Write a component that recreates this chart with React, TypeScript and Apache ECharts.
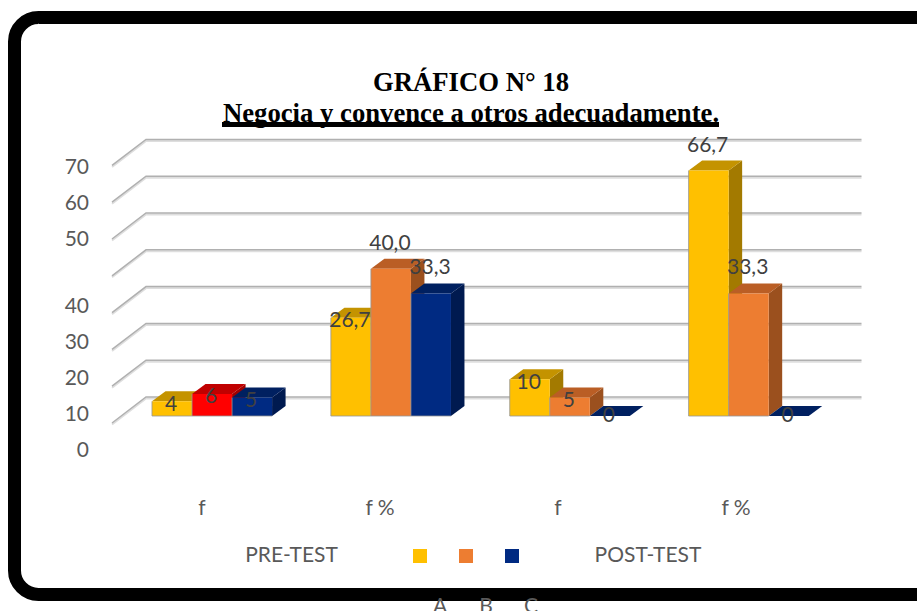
import React, { useEffect, useRef } from "react";
import * as echarts from "echarts";

const categories = ["f", "f %", "f", "f %"];
const seriesNames = ["A", "B", "C"];
const valuesA = [4, 26.7, 10, 66.7];
const valuesB = [6, 40.0, 5, 33.3];
const valuesC = [5, 33.3, 0, 0];
const gridValues = [0, 10, 20, 30, 40, 50, 60, 70];
const titleLine1 = "GRÁFICO N° 18";
const titleLine2 = "Negocia y convence a otros adecuadamente.";
const groupNames = ["PRE-TEST", "POST-TEST"];

const faces = [
  { front: "#FFC000", top: "#C49300", side: "#A37A00" },
  { front: "#ED7D31", top: "#BA5E25", side: "#9B501E" },
  { front: "#002A82", top: "#002060", side: "#001A50" },
];
const redFace = { front: "#FF0000", top: "#C00000", side: "#A00000" };

const SANS = "Lato";
const GREY = "#595959";

const formatLabel = (v: number, cat: number) =>
  v === 0 ? "0" : cat % 2 === 1 ? v.toFixed(1).replace(".", ",") : String(v);

const barSeries = (s: number, values: number[]) => ({
  type: "custom",
  name: seriesNames[s],
  xAxisIndex: 0,
  yAxisIndex: 0,
  z: 3 + s,
  silent: true,
  clip: false,
  itemStyle: { color: faces[s].front },
  data: values.map((v, i) => [i, v]),
  renderItem: (_: any, api: any) => {
    const cat = api.value(0);
    const v = api.value(1);
    const band = api.size([1, 0])[0];
    const w = band * 0.2238;
    const [cx, y0] = api.coord([cat, 0]);
    const [, yv] = api.coord([cat, v]);
    const fx = band * 0.0593;
    const fy = -7;
    const x0 = cx + fx - 1.5 * w + s * w;
    const x1 = x0 + w;
    const base = y0 + fy;
    const topY = yv + fy;
    const dx = 13.5;
    const dy = -10;
    const c = s === 1 && cat === 0 ? redFace : faces[s];
    const children: any[] = [];
    if (v > 0) {
      children.push({
        type: "polygon",
        shape: { points: [[x1, base], [x1 + dx, base + dy], [x1 + dx, topY + dy], [x1, topY]] },
        style: { fill: c.side },
      });
    }
    children.push({
      type: "polygon",
      shape: { points: [[x0, topY], [x0 + dx, topY + dy], [x1 + dx, topY + dy], [x1, topY]] },
      style: { fill: c.top },
    });
    if (v > 0) {
      children.push({
        type: "rect",
        shape: { x: x0, y: topY, width: w, height: base - topY },
        style: { fill: c.front },
      });
      children.push({
        type: "polyline",
        shape: { points: [[x0, topY], [x0, base], [x1, base]] },
        style: { fill: "none", stroke: "rgba(150,150,150,0.8)", lineWidth: 1 },
      });
    }
    const lifted = v > 30;
    children.push({
      type: "text",
      x: (x0 + x1) / 2 - 1,
      y: lifted ? topY - 27.5 : topY + (v === 0 ? -3 : 1),
      style: {
        text: formatLabel(v, cat),
        fill: "#404040",
        fontFamily: SANS,
        fontSize: 21,
        align: "center",
        verticalAlign: "middle",
      },
    });
    return { type: "group", children };
  },
});

const gridSeries = {
  type: "custom",
  xAxisIndex: 0,
  yAxisIndex: 0,
  z: 2,
  silent: true,
  clip: false,
  data: gridValues.map((v) => [0, v]),
  renderItem: (_: any, api: any) => {
    const band = api.size([1, 0])[0];
    const [cx, y] = api.coord([0, api.value(1)]);
    const left = cx - band / 2;
    const right = left + band * 4;
    const pts = (o: number) => [
      [left, y + o],
      [left + 34, y - 26 + o],
      [right + 34, y - 26 + o],
    ];
    return {
      type: "group",
      children: [
        { type: "polyline", shape: { points: pts(1.5) }, style: { fill: "none", stroke: "#DEDEDE", lineWidth: 2 } },
        { type: "polyline", shape: { points: pts(0) }, style: { fill: "none", stroke: "#B0B0B0", lineWidth: 1.5 } },
      ],
    };
  },
};

const labelAxis = (grid: number, min: number, max: number) => ({
  type: "value",
  gridIndex: grid,
  min,
  max,
  interval: 10,
  axisLine: { show: false },
  axisTick: { show: false },
  splitLine: { show: false },
  axisLabel: { color: GREY, fontFamily: SANS, fontSize: 21, margin: 24 },
});

const captionText = (text: string, x: number, y: number, z: number) => ({
  type: "text",
  x,
  y,
  z,
  style: { text, fill: GREY, fontFamily: SANS, fontSize: 21, align: "center", verticalAlign: "middle" },
});

export default function App() {
  const ref = useRef<HTMLDivElement>(null);
  useEffect(() => {
    document.body.style.margin = "0";
    document.body.style.overflow = "hidden";
    const chart = echarts.init(ref.current!, undefined, { renderer: "svg" });
    chart.setOption({
      animation: false,
      backgroundColor: "#fff",
      title: {
        text: titleLine1,
        subtext: titleLine2,
        left: 466,
        top: 63,
        textAlign: "center",
        itemGap: 4,
        textStyle: { fontFamily: "Liberation Serif", fontWeight: "bold", fontSize: 26.7, color: "#000" },
        subtextStyle: { fontFamily: "Liberation Serif", fontWeight: "bold", fontSize: 26.7, color: "#000" },
      },
      grid: [
        { left: 112, width: 715.5, top: 165.4, height: 257.6 },
        { left: 113, width: 712, top: 304, height: 144 },
        { left: 113, width: 712, top: 165, height: 72 },
      ],
      xAxis: [
        { type: "category", gridIndex: 0, data: categories, show: false },
        {
          type: "category",
          gridIndex: 1,
          data: categories,
          axisLine: { show: false },
          axisTick: { show: false },
          axisLabel: { color: GREY, fontFamily: SANS, fontSize: 21, margin: 48 },
        },
        { type: "value", gridIndex: 2, show: false },
      ],
      yAxis: [
        { type: "value", gridIndex: 0, min: 0, max: 70, show: false },
        labelAxis(1, 0, 40),
        labelAxis(2, 50, 70),
      ],
      legend: {
        data: seriesNames,
        left: 413,
        top: 549,
        padding: 0,
        icon: "rect",
        itemWidth: 14,
        itemHeight: 14,
        itemGap: 32,
        selectedMode: false,
        formatter: () => "",
        textStyle: { fontSize: 14 },
      },
      graphic: [
        {
          type: "rect",
          z: -1,
          shape: { x: 14.5, y: 17.5, width: 1000, height: 577, r: 24 },
          style: { fill: "#fff", stroke: "#000", lineWidth: 13 },
        },
        { type: "rect", z: 7, shape: { x: 222, y: 122, width: 497, height: 5 }, style: { fill: "#000" } },
        captionText(groupNames[0], 291.5, 553.5, 7),
        captionText(groupNames[1], 648, 553.5, 7),
        captionText(seriesNames[0], 440, 604, 7),
        captionText(seriesNames[1], 486, 604, 7),
        captionText(seriesNames[2], 531, 604, 7),
      ],
      series: [gridSeries, barSeries(0, valuesA), barSeries(1, valuesB), barSeries(2, valuesC)],
    });
    return () => chart.dispose();
  }, []);
  return <div ref={ref} style={{ width: 917, height: 611 }} />;
}
